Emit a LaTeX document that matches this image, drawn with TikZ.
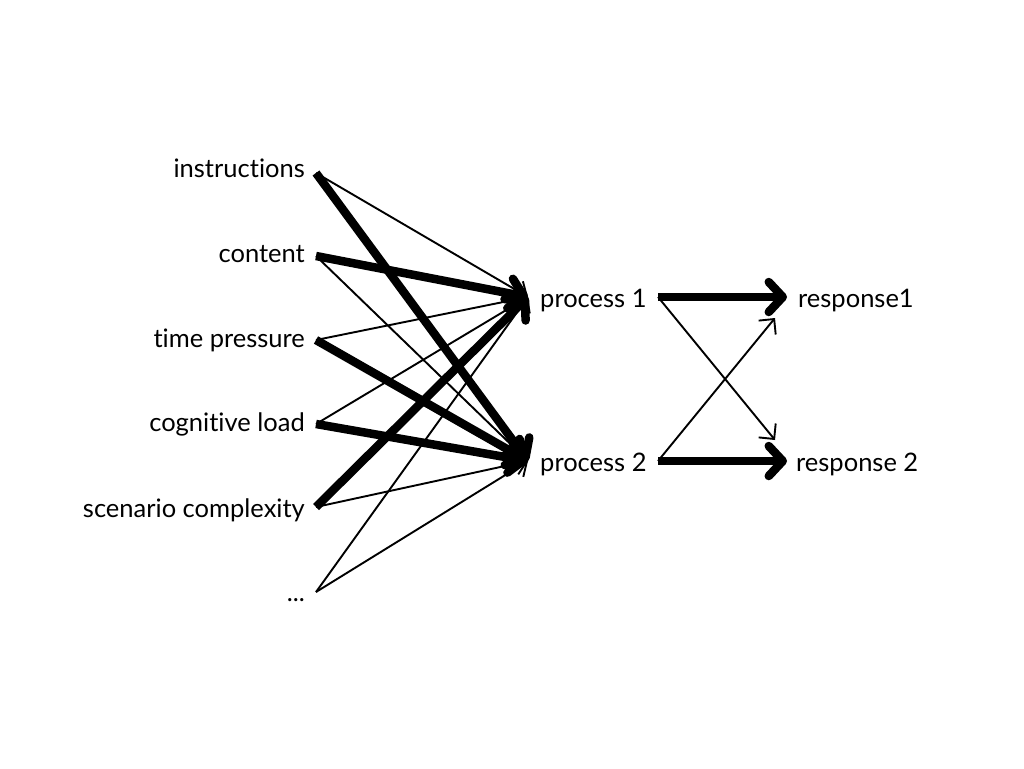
\documentclass[tikz,border=0pt]{standalone}
\usepackage{fontspec}
\setmainfont{Lato}[Ligatures={NoCommon,NoRare}]
\usetikzlibrary{arrows.meta}
\begin{document}
\begin{tikzpicture}[x=1pt,y=-1pt,
  lbl/.style={font=\fontsize{25.5}{28}\selectfont, inner sep=0pt},
  thin/.style={line width=1.9pt, -{Straight Barb[length=11pt,width=22pt,line width=1.9pt]}},
  thick/.style={line width=8.5pt, -{Straight Barb[length=14pt,width=30pt,line width=8.5pt,round]}}]
\useasboundingbox[fill=white] (0,0) rectangle (1024,768);
% source labels
\node[lbl, anchor=base east] (l1) at (305,177) {instructions};
\node[lbl, anchor=base east] (l2) at (305,262) {content};
\node[lbl, anchor=base east] (l3) at (305,347) {time pressure};
\node[lbl, anchor=base east] (l4) at (305,431) {cognitive load};
\node[lbl, anchor=base east] (l5) at (305,517) {scenario complexity};
\node[lbl, anchor=base east] (l6) at (305,601) {...};
\coordinate (s1) at (316,173);
\coordinate (s2) at (316,256);
\coordinate (s3) at (316,340);
\coordinate (s4) at (316,424);
\coordinate (s5) at (316,507);
\coordinate (s6) at (316,592);
% process nodes
\node[lbl, anchor=base west] (p1) at (540,307) {process 1};
\node[lbl, anchor=base west] (p2) at (540,471) {process 2};
\coordinate (p1in) at (528,297);
\coordinate (p2in) at (528,461);
\coordinate (p1out) at (658,297);
\coordinate (p2out) at (658,461);
% responses
\node[lbl, anchor=base west] (r1) at (798,307) {response1};
\node[lbl, anchor=base west] (r2) at (796,471) {response 2};
\coordinate (r1in) at (787,297);
\coordinate (r2in) at (787,461);
\coordinate (r1x) at (775,318);
\coordinate (r2x) at (775,440);
% thin connectors
\draw[thin] (s1) -- (p1in);
\draw[thin] (s2) -- (p2in);
\draw[thin] (s3) -- (p1in);
\draw[thin] (s4) -- (p1in);
\draw[thin] (s5) -- (p2in);
\draw[thin] (s6) -- (p1in);
\draw[thin] (s6) -- (p2in);
% thick connectors
\draw[thick] (s1) -- (p2in);
\draw[thick] (s2) -- (p1in);
\draw[thick] (s3) -- (p2in);
\draw[thick] (s4) -- (p2in);
\draw[thick] (s5) -- (p1in);
% outputs
\draw[thick] (p1out) -- (r1in);
\draw[thick] (p2out) -- (r2in);
\draw[thin] (p1out) -- (r2x);
\draw[thin] (p2out) -- (r1x);
\end{tikzpicture}
\end{document}
